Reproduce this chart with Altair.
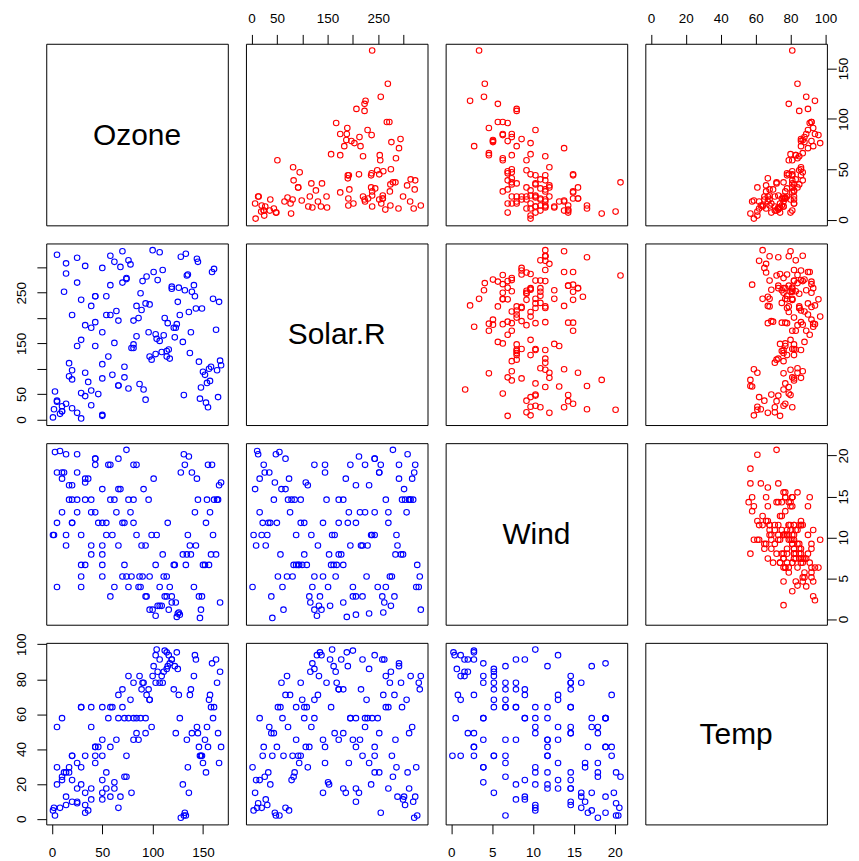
import altair as alt
import pandas as pd

NA = None
# airquality: Ozone, Solar.R, Wind, Temp (153 days)
ozone = [41, 36, 12, 18, NA, 28, 23, 19, 8, NA,
         7, 16, 11, 14, 18, 14, 34, 6, 30, 11,
         1, 11, 4, 32, NA, NA, NA, 23, 45, 115,
         37, NA, NA, NA, NA, NA, NA, 29, NA, 71,
         39, NA, NA, 23, NA, NA, 21, 37, 20, 12,
         13, NA, NA, NA, NA, NA, NA, NA, NA, NA,
         NA, 135, 49, 32, NA, 64, 40, 77, 97, 97,
         85, NA, 10, 27, NA, 7, 48, 35, 61, 79,
         63, 16, NA, NA, 80, 108, 20, 52, 82, 50,
         64, 59, 39, 9, 16, 78, 35, 66, 122, 89,
         110, NA, NA, 44, 28, 65, NA, 22, 59, 23,
         31, 44, 21, 9, NA, 45, 168, 73, NA, 76,
         118, 84, 85, 96, 78, 73, 91, 47, 32, 20,
         23, 21, 24, 44, 21, 28, 9, 13, 46, 18,
         13, 24, 16, 13, 23, 36, 7, 14, 30, NA,
         14, 18, 20]
solar = [190, 118, 149, 313, NA, NA, 299, 99, 19, 194,
         NA, 256, 290, 274, 65, 334, 307, 78, 322, 44,
         8, 320, 25, 92, 66, 266, NA, 13, 252, 223,
         279, 286, 287, 242, 186, 220, 264, 127, 273, 291,
         323, 259, 250, 148, 332, 322, 191, 284, 37, 120,
         137, 150, 59, 91, 250, 135, 127, 47, 98, 31,
         138, 269, 248, 236, 101, 175, 314, 276, 267, 272,
         175, 139, 264, 175, 291, 48, 260, 274, 285, 187,
         220, 7, 258, 295, 294, 223, 81, 82, 213, 275,
         253, 254, 83, 24, 77, NA, NA, NA, 255, 229,
         207, 222, 137, 192, 273, 157, 64, 71, 51, 115,
         244, 190, 259, 36, 255, 212, 238, 215, 153, 203,
         225, 237, 188, 167, 197, 183, 189, 95, 92, 252,
         220, 230, 259, 236, 259, 238, 24, 112, 237, 224,
         27, 238, 201, 238, 14, 139, 49, 20, 193, 145,
         191, 131, 223]
wind = [7.4, 8.0, 12.6, 11.5, 14.3, 14.9, 8.6, 13.8, 20.1, 8.6,
        6.9, 9.7, 9.2, 10.9, 13.2, 11.5, 12.0, 18.4, 11.5, 9.7,
        9.7, 16.6, 9.7, 12.0, 16.6, 14.9, 8.0, 12.0, 14.9, 5.7,
        7.4, 8.6, 9.7, 16.1, 9.2, 8.6, 14.3, 9.7, 6.9, 13.8,
        11.5, 10.9, 9.2, 8.0, 13.8, 11.5, 14.9, 20.7, 9.2, 11.5,
        10.3, 6.3, 1.7, 4.6, 6.3, 8.0, 8.0, 10.3, 11.5, 14.9,
        8.0, 4.1, 9.2, 9.2, 10.9, 4.6, 10.9, 5.1, 6.3, 5.7,
        7.4, 8.6, 14.3, 14.9, 14.9, 14.3, 6.9, 10.3, 6.3, 5.1,
        11.5, 6.9, 9.7, 11.5, 8.6, 8.0, 8.6, 12.0, 7.4, 7.4,
        7.4, 9.2, 6.9, 13.8, 7.4, 6.9, 7.4, 4.6, 4.0, 10.3,
        8.0, 8.6, 11.5, 11.5, 11.5, 9.7, 11.5, 10.3, 6.3, 7.4,
        10.9, 10.3, 15.5, 14.3, 12.6, 9.7, 3.4, 8.0, 5.7, 9.7,
        2.3, 6.3, 6.3, 6.9, 5.1, 2.8, 4.6, 7.4, 15.5, 10.9,
        10.3, 10.9, 9.7, 14.9, 15.5, 6.3, 10.9, 11.5, 6.9, 13.8,
        10.3, 10.3, 8.0, 12.6, 9.2, 10.3, 10.3, 16.6, 6.9, 13.2,
        14.3, 8.0, 11.5]
temp = [67, 72, 74, 62, 56, 66, 65, 59, 61, 69,
        74, 69, 66, 68, 58, 64, 66, 57, 68, 62,
        59, 73, 61, 61, 57, 58, 57, 67, 81, 79,
        76, 78, 74, 67, 84, 85, 79, 82, 87, 90,
        87, 93, 92, 82, 80, 79, 77, 72, 65, 73,
        76, 77, 76, 76, 76, 75, 78, 73, 80, 77,
        83, 84, 85, 81, 84, 83, 83, 88, 92, 92,
        89, 82, 73, 81, 91, 80, 81, 82, 84, 87,
        85, 74, 81, 82, 86, 85, 82, 86, 88, 86,
        83, 81, 81, 81, 82, 86, 85, 87, 89, 90,
        90, 92, 86, 86, 82, 80, 79, 77, 79, 76,
        78, 78, 77, 72, 75, 79, 81, 86, 88, 97,
        94, 96, 94, 91, 92, 93, 93, 87, 84, 80,
        78, 75, 73, 81, 76, 77, 71, 71, 78, 67,
        76, 68, 82, 64, 71, 81, 69, 63, 70, 77,
        75, 76, 68]

# values drawn in the blue (lower) panels
b_Ozone = [79,72,17,33,128,58,50,36,8,130,5,29,14,25,33,25,68,3,62,14,1,14,2,66,131,132,133,50,84,123,74,134,135,136,137,138,139,60,141,101,76,142,143,50,144,145,43,74,39,17,20,146,147,148,149,150,152,153,154,155,156,126,89,66,157,97,78,105,119,119,114,158,12,56,159,5,88,70,94,109,96,29,160,161,110,121,39,91,111,90,97,93,76,10,29,107,70,100,125,115,122,163,164,81,58,99,165,46,93,50,64,81,43,10,166,84,127,103,167,104,124,112,114,117,107,103,116,87,66,39,50,43,54,81,43,58,10,20,86,33,20,54,29,20,50,72,5,25,62,168,25,33,39]
b_Solar = [141,83,111,303,321,323,299,74,11,153,325,236,288,270,46,319,301,55,311,31,4,308,20,67,48,255,327,7,224,181,277,284,286,212,131,172,252,88,265,291,314,243,219,109,317,311,145,279,28,85,97,114,41,63,219,94,88,33,72,24,100,260,216,195,76,124,306,275,258,262,124,104,252,124,291,35,249,270,282,133,172,2,238,297,295,181,57,59,166,273,227,229,61,16,52,330,332,334,232,190,162,177,97,148,265,118,44,50,39,81,214,141,243,26,232,164,206,168,116,159,188,200,135,120,155,129,138,70,67,224,172,192,243,195,243,206,16,79,200,186,22,206,157,206,9,104,37,13,151,107,145,92,181]
b_Wind = [5.21,6.63,16.37,14.61,17.93,18.87,7.91,17.18,20.56,7.91,3.92,10.28,9,13.06,16.71,14.61,15.9,20.43,14.61,10.28,10.28,20.16,10.28,15.9,20.16,18.87,6.63,15.9,18.87,2.03,5.21,7.91,10.28,19.89,9,7.91,17.93,10.28,3.92,17.18,14.61,13.06,9,6.63,17.18,14.61,18.87,20.7,9,14.61,11.77,2.77,0.14,1.15,2.77,6.63,6.63,11.77,14.61,18.87,6.63,0.81,9,9,13.06,1.15,13.06,1.62,2.77,2.03,5.21,7.91,17.93,18.87,18.87,17.93,3.92,11.77,2.77,1.62,14.61,3.92,10.28,14.61,7.91,6.63,7.91,15.9,5.21,5.21,5.21,9,3.92,17.18,5.21,3.92,5.21,1.15,0.68,11.77,6.63,7.91,14.61,14.61,14.61,10.28,14.61,11.77,2.77,5.21,13.06,11.77,19.62,17.93,16.37,10.28,0.54,6.63,2.03,10.28,0.27,2.77,2.77,3.92,1.62,0.41,1.15,5.21,19.62,13.06,11.77,13.06,10.28,18.87,19.62,2.77,13.06,14.61,3.92,17.18,11.77,11.77,6.63,16.37,9,11.77,11.77,20.16,3.92,16.71,17.93,6.63,14.61]
b_Temp = [14.9,24.1,29.5,7.9,0.6,12.7,11.1,4.8,6.3,19.7,29.5,19.7,12.7,17.4,3.5,9.8,12.7,1.9,17.4,7.9,4.8,26.6,6.3,6.3,1.9,3.5,1.9,14.9,57.7,49.1,36.1,45.3,29.5,14.9,71,74.2,49.1,64,81.8,87.5,81.8,93.8,91.3,64,52.6,49.1,41.2,24.1,11.1,26.6,36.1,41.2,36.1,36.1,36.1,32,45.3,26.6,52.6,41.2,68.2,71,74.2,57.7,71,68.2,68.2,84.3,91.3,91.3,85.9,64,26.6,57.7,89.1,52.6,57.7,64,71,81.8,74.2,29.5,57.7,64,78,74.2,64,78,84.3,78,68.2,57.7,57.7,57.7,64,78,74.2,81.8,85.9,87.5,87.5,91.3,78,78,64,52.6,49.1,41.2,49.1,36.1,45.3,45.3,41.2,24.1,32,49.1,57.7,78,84.3,97,95.4,96.4,95.4,89.1,91.3,93.8,93.8,81.8,71,52.6,45.3,32,26.6,57.7,36.1,41.2,22.2,22.2,45.3,14.9,36.1,17.4,64,9.8,22.2,57.7,19.7,8.9,20.9,41.2,32,36.1,17.4]

names = ["Ozone", "Solar.R", "Wind", "Temp"]
red = {"Ozone": ozone, "Solar.R": solar, "Wind": wind, "Temp": temp}
blue = {"Ozone": b_Ozone, "Solar.R": b_Solar, "Wind": b_Wind, "Temp": b_Temp}

# axis ranges of each variable (data range plus 4% on each side)
dom_Ozone = [-5.68, 174.68]
dom_Solar = [-11.09, 347.27]
dom_Wind = [-0.69, 21.52]
dom_Temp = [-3.22, 100.85]
dom = {"Ozone": dom_Ozone, "Solar.R": dom_Solar, "Wind": dom_Wind, "Temp": dom_Temp}

TICKS = {"Ozone": [0, 50, 100, 150], "Solar.R": [0, 50, 100, 150, 200, 250, 300],
         "Wind": [0, 5, 10, 15, 20], "Temp": [0, 20, 40, 60, 80, 100]}
HIDE = {"Solar.R": [100, 200, 300]}
FONT = "Liberation Sans"
W = 182.3
GAP = 17.5
FS = 13.5


def make_axis(var, orient):
    hide = HIDE.get(var, [])
    expr = "datum.label"
    if hide:
        cond = " || ".join("datum.value == %d" % h for h in hide)
        expr = "(%s) ? '' : datum.label" % cond
    kw = dict(values=TICKS[var], orient=orient, title=None, domain=False, grid=False,
              ticks=True, tickSize=9.4, tickColor="black", tickWidth=1,
              labelColor="black", labelFont=FONT, labelFontSize=FS,
              labelOverlap=False, labelFlush=False, labelExpr=expr)
    if orient == "top":
        kw.update(labelAngle=0, labelAlign="center", labelBaseline="bottom", labelPadding=8.6)
    elif orient == "bottom":
        kw.update(labelAngle=0, labelAlign="center", labelBaseline="top", labelPadding=12.2)
    elif orient == "left":
        kw.update(labelAngle=-90, labelAlign="center", labelBaseline="bottom", labelPadding=8.2)
    else:
        kw.update(labelAngle=-90, labelAlign="center", labelBaseline="top", labelPadding=0.6)
    return alt.Axis(**kw)


charts = []
for i in range(4):
    for j in range(4):
        vx, vy = names[j], names[i]
        xa = None
        ya = None
        if i == 0 and j % 2 == 1:
            xa = make_axis(vx, "top")
        if i == 3 and j % 2 == 0:
            xa = make_axis(vx, "bottom")
        if j == 0 and i % 2 == 1:
            ya = make_axis(vy, "left")
        if j == 3 and i % 2 == 0:
            ya = make_axis(vy, "right")
        xs = alt.Scale(domain=dom[vx], nice=False, zero=False)
        ys = alt.Scale(domain=dom[vy], nice=False, zero=False)
        if i == j:
            df = pd.DataFrame({"x": [sum(dom[vx]) / 2], "y": [sum(dom[vy]) / 2], "label": [vx]})
            c = alt.Chart(df).mark_text(font=FONT, fontSize=30, color="black",
                                        align="center", baseline="middle", dy=1).encode(
                x=alt.X("x:Q", scale=xs, axis=xa),
                y=alt.Y("y:Q", scale=ys, axis=ya),
                text="label:N")
        else:
            if i < j:
                pts = [(a, b) for a, b in zip(red[vx], red[vy]) if a is not None and b is not None]
                color = "#FF0000"
            else:
                pts = list(zip(blue[vx], blue[vy]))
                color = "#0000FF"
            df = pd.DataFrame(pts, columns=["x", "y"])
            c = alt.Chart(df).mark_point(shape="circle", filled=False, size=31,
                                         strokeWidth=1.1, color=color, opacity=1).encode(
                x=alt.X("x:Q", scale=xs, axis=xa),
                y=alt.Y("y:Q", scale=ys, axis=ya))
        charts.append(c.properties(width=W, height=W))

chart = alt.concat(*charts, columns=4, spacing=GAP, bounds="flush").configure_view(
    stroke="black", strokeWidth=1).properties(
    padding={"left": 5.4, "top": 1.2, "right": 0, "bottom": 0}, background="white")

chart.save("out.html", embed_options={"renderer": "svg", "actions": False})
